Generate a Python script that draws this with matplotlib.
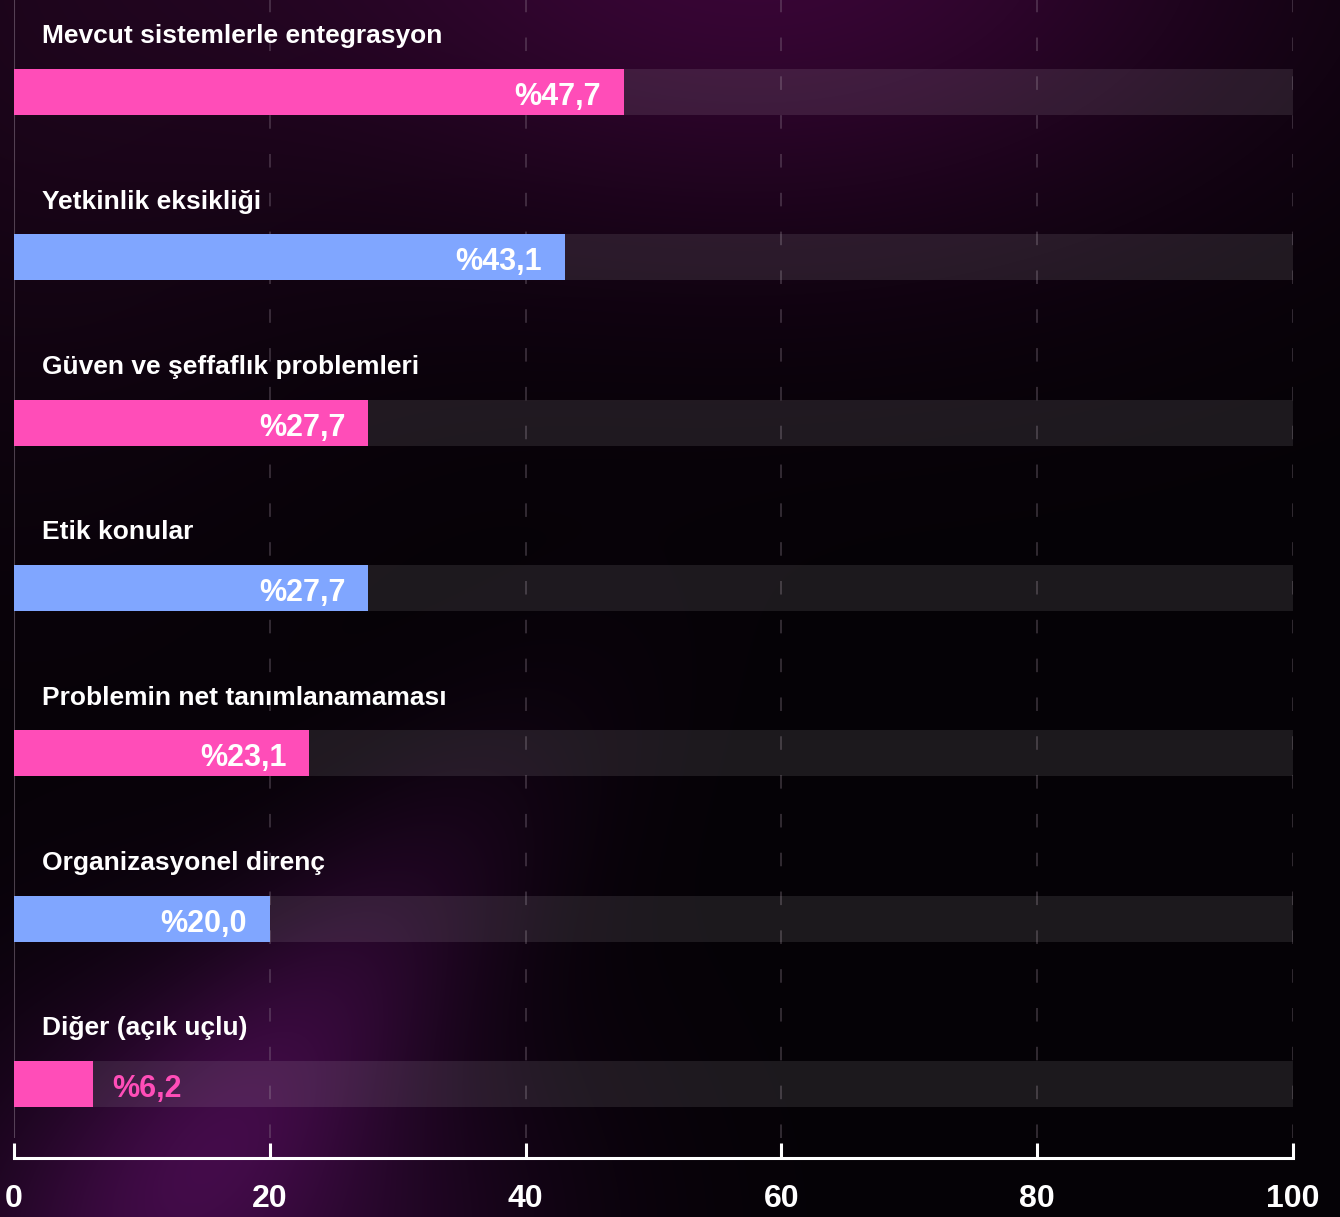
import numpy as np
import matplotlib
matplotlib.use("Agg")
import matplotlib.pyplot as plt

categories = ["Mevcut sistemlerle entegrasyon", "Yetkinlik eksikliği",
              "Güven ve şeffaflık problemleri", "Etik konular",
              "Problemin net tanımlanamaması", "Organizasyonel direnç",
              "Diğer (açık uçlu)"]
values = [47.7, 43.1, 27.7, 27.7, 23.1, 20.0, 6.2]
xticks = [0, 20, 40, 60, 80, 100]

PINK = "#FF4DB8"
BLUE = "#80A6FF"
colors = [PINK if i % 2 == 0 else BLUE for i in range(len(values))]

plt.rcParams['font.family'] = ['Liberation Sans', 'DejaVu Sans']

W, H = 1340, 1217
fig = plt.figure(figsize=(W / 100, H / 100), dpi=100)

# ---- background ----
yy, xx = np.mgrid[0:H, 0:W].astype(float)
img = np.zeros((H, W, 3))
img[:] = np.array([5, 2, 6]) / 255.0

def glow(cx, cy, rx, ry, col):
    d = ((xx - cx) / rx) ** 2 + ((yy - cy) / ry) ** 2
    g = np.exp(-d)
    return g[..., None] * (np.array(col) / 255.0)[None, None, :]

img += glow(760, -60, 520, 300, (52, 4, 48))
img += glow(0, 0, 350, 500, (18, 3, 16))
img += glow(220, 1240, 300, 260, (42, 6, 46))
# diagonal streak from bottom-left towards centre (smooth)
p0 = np.array([100.0, 1260.0]); p1 = np.array([650.0, 620.0])
dvec = (p1 - p0) / np.linalg.norm(p1 - p0)
nvec = np.array([-dvec[1], dvec[0]])
rel_x = xx - p0[0]; rel_y = yy - p0[1]
along = rel_x * dvec[0] + rel_y * dvec[1]
perp = rel_x * nvec[0] + rel_y * nvec[1]
L = np.linalg.norm(p1 - p0)
t = along / L
streak = np.exp(-(perp / 120) ** 2) * np.exp(-((t - 0.35) / 0.4) ** 2)
img += streak[..., None] * (np.array([30, 5, 32]) / 255.0)
img = np.clip(img, 0, 1)

bg = fig.add_axes([0, 0, 1, 1], zorder=-10)
bg.imshow(img, extent=[0, W, H, 0], aspect='auto')
bg.axis('off')

# ---- main axes ----
left_px, right_px = 14, 1293
top_px, bottom_px = 0, 1138
ax = fig.add_axes([left_px / W, (H - bottom_px) / H,
                   (right_px - left_px) / W, (bottom_px - top_px) / H])
ax.set_facecolor('none')

spacing = 165.33
y = np.arange(len(values))
ax.set_xlim(0, 100)
ax.set_ylim(6 + 54 / spacing, -92 / spacing)

bh = 46 / spacing
# gridlines
for tk in xticks[1:]:
    ax.axvline(tk, color='#9a8a9a', alpha=0.32, lw=1.3, dashes=(7.5, 14), zorder=1)
ax.axvline(0, color='#9a8a9a', alpha=0.45, lw=1.5, zorder=1)

# tracks
ax.barh(y, [100] * len(values), height=bh, color='white', alpha=0.095,
        zorder=2, linewidth=0)
ax.barh(y, values, height=bh, color=colors, zorder=3, linewidth=0)

for i, (cat, v) in enumerate(zip(categories, values)):
    ax.text(2.19, i - 0.2945, cat, color='white', fontsize=19,
            fontweight='bold', va='baseline', ha='left', zorder=5)
    lbl = "%" + f"{v:.1f}".replace('.', ',')
    if v > 12:
        ax.annotate(lbl, xy=(v, i + 0.079), xytext=(-16.5, 0),
                    textcoords='offset points', ha='right', va='baseline',
                    color='white', fontsize=22, fontweight='bold', zorder=6)
    else:
        ax.annotate(lbl, xy=(v, i + 0.079), xytext=(13.7, 0),
                    textcoords='offset points', ha='left', va='baseline',
                    color=colors[i], fontsize=22, fontweight='bold', zorder=6)

for s in ['top', 'right', 'left']:
    ax.spines[s].set_visible(False)
ax.spines['bottom'].set_position(('outward', 14.4))
ax.spines['bottom'].set_color('white')
ax.spines['bottom'].set_linewidth(2.2)
ax.set_yticks([])
ax.set_xticks(xticks)
ax.set_xticklabels([str(tk) for tk in xticks])
ax.tick_params(axis='x', direction='in', length=11, width=2.2, colors='white',
               labelsize=23, pad=19)
for lab in ax.get_xticklabels():
    lab.set_fontweight('bold')

fig.savefig("out.png", dpi=100)
